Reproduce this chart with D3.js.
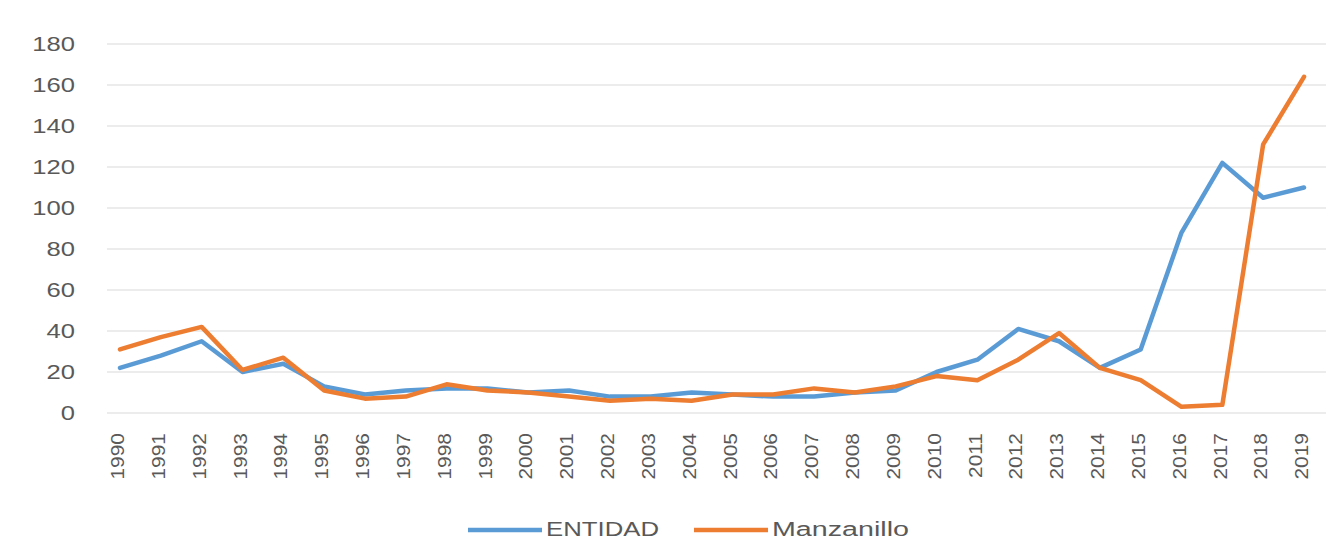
<!DOCTYPE html>
<html>
<head>
<meta charset="utf-8">
<script src="https://cdn.jsdelivr.net/npm/d3@7"></script>
<style>
  body { margin: 0; background: #fff; }
  text { font-family: "Liberation Sans", "Noto Sans", sans-serif; fill: #595959; }
</style>
</head>
<body>
<div id="chart"></div>
<script>
// ---------------------------------------------
// ---------          Data            ----------
// ---------------------------------------------
const years = d3.range(1990, 2020).map(String);
const entidad = [22, 28, 35, 20, 24, 13, 9, 11, 12, 12, 10, 11, 8, 8, 10, 9, 8, 8, 10, 11, 20, 26, 41, 35, 22, 31, 88, 122, 105, 110];
const manzanillo = [31, 37, 42, 21, 27, 11, 7, 8, 14, 11, 10, 8, 6, 7, 6, 9, 9, 12, 10, 13, 18, 16, 26, 39, 22, 16, 3, 4, 131, 164];
const yTicks = [0, 20, 40, 60, 80, 100, 120, 140, 160, 180];
const seriesNames = ["ENTIDAD", "Manzanillo"];
const colors = ["#5B9BD5", "#ED7D31"];

const W = 1342, H = 541;
const margin = { left: 107, right: 16, top: 44, bottom: 128 };
const width = W - margin.left - margin.right;
const height = H - margin.top - margin.bottom;

// ---------------------------------------------
// ---------    Basic Chart Layout      --------
// ---------------------------------------------
const svg = d3.select("#chart")
  .append("svg")
    .attr("width", W)
    .attr("height", H)
  .append("g")
    .attr("transform", "translate(" + margin.left + "," + margin.top + ")");

const x = d3.scalePoint().domain(years).range([13, width - 22]);
const y = d3.scaleLinear().domain([0, 180]).range([height, 0]);

// gridlines
svg.append("g")
  .selectAll("line")
  .data(yTicks)
  .join("line")
    .attr("x1", 0)
    .attr("x2", width)
    .attr("y1", d => y(d))
    .attr("y2", d => y(d))
    .style("stroke", "#d9d9d9")
    .style("stroke-width", 1);

// Y axis
const yAxis = svg.append("g")
  .call(d3.axisLeft(y).tickValues(yTicks).tickSize(0));
yAxis.select(".domain").remove();
yAxis.selectAll("text")
  .style("font-size", "20px")
  .style("fill", "#595959")
  .attr("x", 0)
  .attr("dy", "0.34em")
  .attr("transform", "translate(-32,0) scale(1.28,1)");

// X axis
const xAxis = svg.append("g")
  .attr("transform", "translate(0," + height + ")")
  .call(d3.axisBottom(x).tickSize(0));
xAxis.select(".domain").remove();
xAxis.selectAll("text")
  .style("font-size", "19px")
  .style("fill", "#595959")
  .attr("text-anchor", "end")
  .attr("dy", "0.35em")
  .attr("x", 0)
  .attr("y", 0)
  .attr("transform", "translate(-3,20) rotate(-90) scale(1.1,1)");

// ---------------------------------------------
// ---------       Chart Data           --------
// ---------------------------------------------
const line = d3.line()
  .x((d, i) => x(years[i]))
  .y(d => y(d));

[entidad, manzanillo].forEach((vals, k) => {
  svg.append("path")
    .datum(vals)
    .attr("fill", "none")
    .attr("stroke", colors[k])
    .attr("stroke-width", 4.5)
    .attr("stroke-linejoin", "round")
    .attr("stroke-linecap", "round")
    .attr("d", line);
});

// legend
const legendX = [468, 694];
const legendTextLen = [113, 137];
const legend = d3.select("svg")
  .append("g")
  .selectAll("g")
  .data(seriesNames)
  .join("g")
    .attr("transform", (d, i) => "translate(" + legendX[i] + ",530)");

legend.append("line")
  .attr("x1", 0)
  .attr("x2", 74)
  .attr("y1", 0)
  .attr("y2", 0)
  .style("stroke", (d, i) => colors[i])
  .style("stroke-width", 4.5);

legend.append("text")
  .attr("x", 78)
  .attr("y", 6)
  .style("font-size", "20px")
  .attr("textLength", (d, i) => legendTextLen[i])
  .attr("lengthAdjust", "spacingAndGlyphs")
  .text(d => d);
</script>
</body>
</html>
